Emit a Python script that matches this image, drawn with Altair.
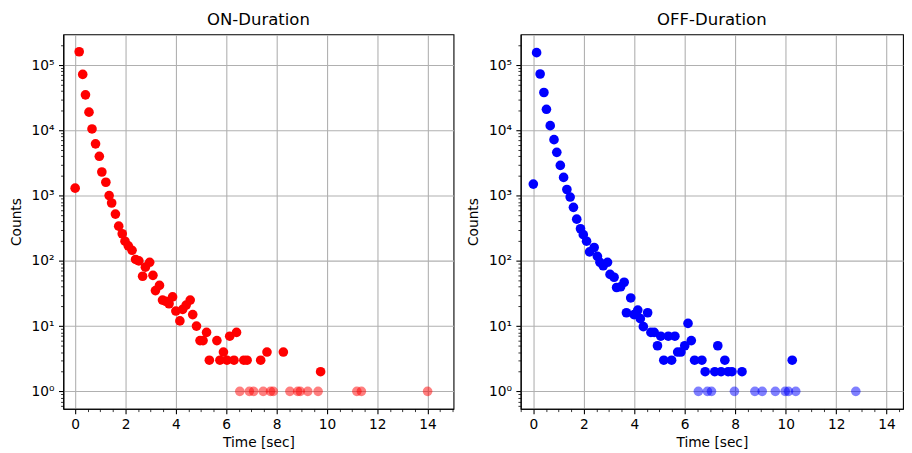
import altair as alt
import pandas as pd

# ---------------- data ----------------
on_time = [0.00, 0.16, 0.30, 0.41, 0.55, 0.67, 0.81, 0.96, 1.06, 1.22,
           1.35, 1.45, 1.60, 1.73, 1.87, 1.98, 2.11, 2.26, 2.40, 2.53,
           2.68, 2.79, 2.96, 3.09, 3.19, 3.35, 3.47, 3.60, 3.73, 3.87,
           4.00, 4.16, 4.27, 4.41, 4.57, 4.67, 4.82, 4.96, 5.08, 5.22,
           5.33, 5.63, 5.75, 5.89, 6.03, 6.14, 6.31, 6.41, 6.54, 6.70,
           6.83, 6.92, 7.09, 7.37, 7.47, 7.62, 7.76, 7.87, 8.27, 8.53,
           8.84, 8.94, 9.24, 9.65, 9.75, 11.19, 11.37, 14.00]
on_counts = [1300, 160000, 72000, 35000, 19000, 10500, 6200, 4000, 2300, 1600,
             1000, 770, 520, 340, 260, 200, 170, 145, 105, 100,
             58, 80, 95, 60, 35, 42, 25, 24, 22, 28,
             17, 12, 18, 21, 25, 15, 10, 6, 6, 8,
             3, 6, 3, 4, 3, 7, 3, 8, 1, 3,
             3, 1, 1, 3, 1, 4, 1, 1, 4, 1,
             1, 1, 1, 1, 2, 1, 1, 1]

off_time = [0.00, 0.13, 0.27, 0.42, 0.52, 0.67, 0.82, 0.93, 1.07, 1.20,
            1.33, 1.46, 1.59, 1.72, 1.87, 1.98, 2.11, 2.23, 2.41, 2.54,
            2.64, 2.77, 2.94, 3.04, 3.20, 3.30, 3.46, 3.60, 3.69, 3.86,
            3.99, 4.14, 4.24, 4.36, 4.53, 4.66, 4.79, 4.92, 5.05, 5.17,
            5.35, 5.48, 5.61, 5.72, 5.85, 6.00, 6.13, 6.26, 6.39, 6.54,
            6.68, 6.81, 6.90, 7.06, 7.19, 7.31, 7.44, 7.59, 7.72, 7.87,
            7.97, 8.27, 8.78, 9.07, 9.59, 9.98, 10.11, 10.26, 10.40, 12.78]
off_counts = [1500, 155000, 73000, 38000, 21000, 11800, 7200, 4600, 2900, 1900,
              1240, 950, 660, 435, 310, 252, 200, 137, 160, 117,
              95, 84, 95, 62, 56, 39, 40, 47, 16, 27,
              15, 17.6, 13, 9.8, 16, 8, 8, 5, 7, 3,
              7, 3, 7, 4, 4, 5, 11, 6, 3, 1,
              3, 2, 1, 1, 2, 5, 2, 3, 2, 2,
              1, 2, 1, 1, 1, 1, 1, 3, 1, 1]

x_tick_values = [i * 0.5 for i in range(-1, 31)]
y_tick_values = [m * 10.0 ** k for k in range(-1, 6) for m in range(1, 10)
                 if 0.54 <= m * 10.0 ** k <= 2.95e5]

FONT = "DejaVu Sans"
X_MAJOR = "datum.value % 2 === 0"
Y_MAJOR = "abs(log(datum.value)/LN10 - round(log(datum.value)/LN10)) < 1e-6"
SUP = "['⁰','¹','²','³','⁴','⁵','⁶']"


def panel(time, counts, color, title, x_domain, width):
    df = pd.DataFrame({"Time": time, "Counts": counts})
    x_axis = alt.Axis(
        title="Time [sec]",
        values=x_tick_values,
        labelExpr=f"({X_MAJOR}) ? format(datum.value, 'd') : ''",
        labelOverlap=False,
        labelFlush=False,
        tickSize={"condition": {"test": X_MAJOR, "value": 4.9}, "value": 2.8},
        tickWidth={"condition": {"test": X_MAJOR, "value": 1.1}, "value": 0.8},
        gridOpacity={"condition": {"test": X_MAJOR, "value": 1}, "value": 0},
        labelPadding=4.5,
        titlePadding=4,
    )
    y_axis = alt.Axis(
        title="Counts",
        values=y_tick_values,
        labelExpr=f"({Y_MAJOR}) ? '10' + {SUP}[round(log(datum.value)/LN10)] : ''",
        labelOverlap=False,
        labelFlush=False,
        tickSize={"condition": {"test": Y_MAJOR, "value": 4.9}, "value": 2.8},
        tickWidth={"condition": {"test": Y_MAJOR, "value": 1.1}, "value": 0.8},
        gridOpacity={"condition": {"test": Y_MAJOR, "value": 1}, "value": 0},
        labelPadding=4.5,
        titlePadding=8,
    )
    return (
        alt.Chart(df)
        .mark_circle(size=95, color=color)
        .encode(
            x=alt.X("Time:Q", scale=alt.Scale(domain=x_domain, nice=False, zero=False), axis=x_axis),
            y=alt.Y("Counts:Q", scale=alt.Scale(type="log", domain=[0.54, 2.95e5], nice=False), axis=y_axis),
            opacity=alt.condition("datum.Counts == 1", alt.value(0.5), alt.value(1.0)),
        )
        .properties(
            width=width,
            height=379,
            title=alt.TitleParams(title, fontSize=16.7, font=FONT, fontWeight="normal",
                                  color="black", frame="group", anchor="middle", offset=6),
        )
    )


left = panel(on_time, on_counts, "#ff0000", "ON-Duration", [-0.47, 15.03], 395)
right = panel(off_time, off_counts, "#0000ff", "OFF-Duration", [-0.5, 14.65], 387)

chart = (
    alt.hconcat(left, right, spacing=11)
    .properties(padding={"left": 0, "top": 0, "right": 0, "bottom": 0})
    .configure_view(stroke="black", strokeWidth=1.1)
    .configure_axis(
        labelFont=FONT, titleFont=FONT, labelFontSize=13.9, titleFontSize=13.9,
        labelColor="black", titleColor="black", titleFontWeight="normal",
        tickColor="black", domainColor="black", domainWidth=1.1,
        gridColor="#b0b0b0", gridWidth=1.1,
    )
)

chart.save("out.html", embed_options={"renderer": "svg", "actions": False})
